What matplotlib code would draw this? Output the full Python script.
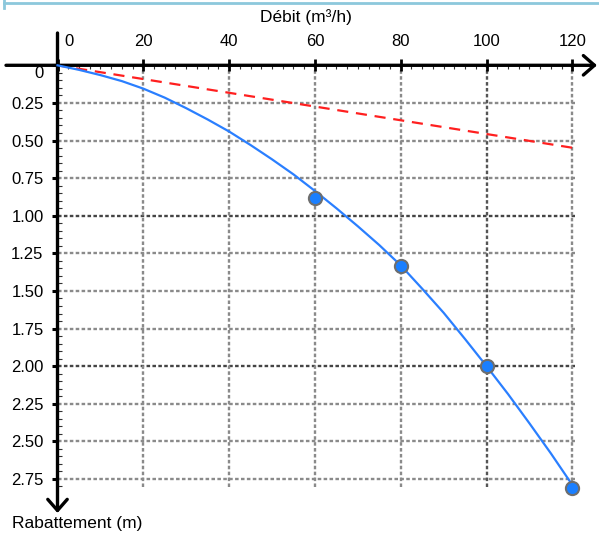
import matplotlib
matplotlib.use("Agg")
import matplotlib.pyplot as plt
from matplotlib.ticker import MultipleLocator
import matplotlib.transforms as mtrans

plt.rcParams['font.family'] = ['Liberation Sans', 'DejaVu Sans']

# ---- data ----
debit_curve = [0, 5, 10, 15, 20, 25, 30, 35, 40, 45, 50, 55, 60, 65, 70, 75, 80,
               85, 90, 95, 100, 105, 110, 115, 120]
rabat_curve = [0, 0.03, 0.065, 0.105, 0.155, 0.215, 0.285, 0.36, 0.44, 0.53, 0.625,
               0.725, 0.835, 0.95, 1.07, 1.195, 1.33, 1.485, 1.645, 1.82, 2.0, 2.185,
               2.38, 2.58, 2.79]
debit_pts = [60, 80, 100, 120]
rabat_pts = [0.88, 1.335, 2.0, 2.81]
debit_lin = [0, 120]
rabat_lin = [0, 0.548]
x_ticks = [0, 20, 40, 60, 80, 100, 120]
y_ticks = [0, 0.25, 0.5, 0.75, 1.0, 1.25, 1.5, 1.75, 2.0, 2.25, 2.5, 2.75]
y_labels = ['0', '0.25', '0.50', '0.75', '1.00', '1.25', '1.50', '1.75',
            '2.00', '2.25', '2.50', '2.75']
x_label = 'Débit (m³/h)'
y_label = 'Rabattement (m)'

W, H = 599, 535
fig = plt.figure(figsize=(W / 100, H / 100), dpi=100)
ax = fig.add_axes([57.5 / W, 0.0893, 517.4 / W, 0.7886])

ax.set_xlim(0, 120.6)
ax.set_ylim(2.805, 0)
for s in ax.spines.values():
    s.set_visible(False)

# grid
for v in y_ticks[1:]:
    c = '#444444' if v in (1.0, 2.0) else '#8a8a8a'
    ax.axhline(v, color=c, lw=1.7, ls=(0, (1.5, 1)), zorder=1)
for v in x_ticks[1:]:
    c = '#555555' if v == 100 else '#8a8a8a'
    ax.axvline(v, color=c, lw=1.7, ls=(0, (1.5, 1)), zorder=1)

# series
ax.plot(debit_lin, rabat_lin, color='#ff1f1f', lw=1.6, ls=(0, (5, 3.5)), zorder=3)
ax.plot(debit_curve, rabat_curve, color='#2a7fff', lw=1.6, zorder=4, clip_on=False,
        solid_joinstyle='round')
ax.plot(debit_pts, rabat_pts, 'o', ms=9.5, mfc='#1a7fff', mec='#6e6e6e', mew=1.5,
        zorder=5, clip_on=False)

# ticks
ax.xaxis.tick_top()
ax.set_xticks(x_ticks)
ax.set_xticklabels([str(v) for v in x_ticks], fontsize=12)
ax.xaxis.set_minor_locator(MultipleLocator(2.5))
ax.tick_params(axis='x', which='major', direction='inout', length=8, width=2,
               pad=8, color='black')
ax.tick_params(axis='x', which='minor', direction='in', length=3, width=0.8,
               color='#333333')
ax.set_yticks(y_ticks)
ax.set_yticklabels(y_labels, fontsize=12)
ax.yaxis.set_minor_locator(MultipleLocator(0.05))
ax.tick_params(axis='y', which='major', direction='out', length=4, width=2.2,
               pad=6, color='black')
ax.tick_params(axis='y', which='minor', direction='in', length=3, width=0.8,
               color='#333333')

# offset the "0" labels
xl0 = ax.get_xticklabels()[0]
xl0.set_transform(xl0.get_transform() + mtrans.ScaledTranslation(8 / 72, 0, fig.dpi_scale_trans))
yl0 = ax.get_yticklabels()[0]
yl0.set_transform(yl0.get_transform() + mtrans.ScaledTranslation(0, -5 / 72, fig.dpi_scale_trans))

# axes arrows (figure pixels)
yax = H - 65.3
arrow = dict(arrowstyle='->,head_length=0.4,head_width=0.35', lw=2.4, color='black',
             shrinkA=0, shrinkB=0, mutation_scale=20)
ax.annotate('', xy=(597, yax), xytext=(6, yax), xycoords='figure pixels',
            textcoords='figure pixels', arrowprops=arrow, annotation_clip=False)
ax.annotate('', xy=(57.5, H - 513), xytext=(57.5, H - 33), xycoords='figure pixels',
            textcoords='figure pixels', arrowprops=arrow, annotation_clip=False)

# labels
fig.text(306 / W, 1 - 17 / H, x_label, ha='center', va='center', fontsize=12.5)
fig.text(12 / W, 1 - 523.5 / H, y_label, ha='left', va='center', fontsize=12.5)

# light blue frame fragment at top
fig.add_artist(plt.Line2D([4 / W, 1], [1 - 2.5 / H, 1 - 2.5 / H], transform=fig.transFigure,
                          color='#8cc8dc', lw=2))
fig.add_artist(plt.Line2D([4 / W, 4 / W], [1, 1 - 8 / H], transform=fig.transFigure,
                          color='#8cc8dc', lw=2))

fig.savefig('out.png', dpi=100)
